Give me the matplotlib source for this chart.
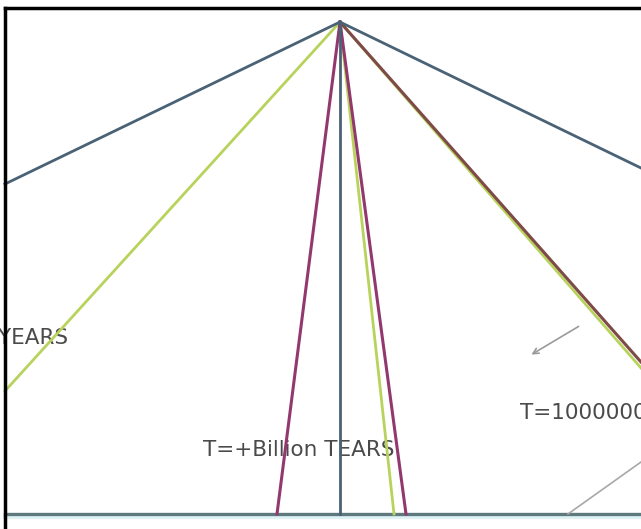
import matplotlib
matplotlib.use("Agg")
import matplotlib.pyplot as plt
from matplotlib.patches import Rectangle

# apex where every ray starts (pixel coords of the sketch, y down)
apex = (340, 22)

# ray end points
blue_ends = [(5, 184), (641, 168), (340, 514)]
green_ends = [(5, 391), (394, 514), (641, 368)]
magenta_ends = [(277, 514), (406, 514)]
maroon_ends = [(641, 362)]

# labels (the outer two run past the frame in the sketch)
labels = ["T=+Million YEARS", "T=+Billion TEARS", "T=1000000 YEARS"]
label_pos = [(68, 338), (203, 450), (520, 413)]
label_ha = ["right", "left", "left"]


def main():
	fig = plt.figure(figsize=(6.41, 5.29), dpi=100)
	ax = fig.add_axes([0, 0, 1, 1])
	ax.set_xlim(0, 641)
	ax.set_ylim(529, 0)
	ax.axis("off")

	# everything inside the frame gets clipped at it
	inner = Rectangle((6.5, 7.5), 636, 522, transform=ax.transData,
		fill=False, lw=0)
	ax.add_patch(inner)

	for txt, (x, y), ha in zip(labels, label_pos, label_ha):
		t = ax.text(x, y, txt, ha=ha, va="center", fontsize=15.5,
			color="#4a4a4a", family="DejaVu Sans", zorder=1)
		t.set_clip_path(inner)

	# ground line
	ax.plot([5, 641], [517, 517], color="#dff3f5", lw=3, zorder=2)
	ax.plot([5, 641], [514, 514], color="#5f7a7e", lw=2.4, zorder=2)

	for x, y in green_ends:
		ax.plot([apex[0], x], [apex[1], y], color="#b8d35c", lw=2.0, zorder=2)
	for x, y in maroon_ends:
		ax.plot([apex[0], x], [apex[1], y], color="#7d4a48", lw=2.2, zorder=2)
	for x, y in magenta_ends:
		ax.plot([apex[0], x], [apex[1], y], color="#93386f", lw=2.2, zorder=2)
	for x, y in blue_ends:
		ax.plot([apex[0], x], [apex[1], y], color="#4a6275", lw=2.0, zorder=2)

	# grey arrow and grey pointer line
	ax.annotate("", xy=(529, 356), xytext=(581, 325),
		arrowprops=dict(arrowstyle="->", color="#9a9a9a", lw=1.2))
	ax.plot([641, 568], [462, 514], color="#a8a8a8", lw=1.2)

	# frame: only left and top are drawn in the sketch
	ax.plot([5, 5], [529, 7.5], color="black", lw=2.5, zorder=3)
	ax.plot([5, 641], [7.5, 7.5], color="black", lw=2.5, zorder=3)

	fig.savefig("out.png", dpi=100)


main()
